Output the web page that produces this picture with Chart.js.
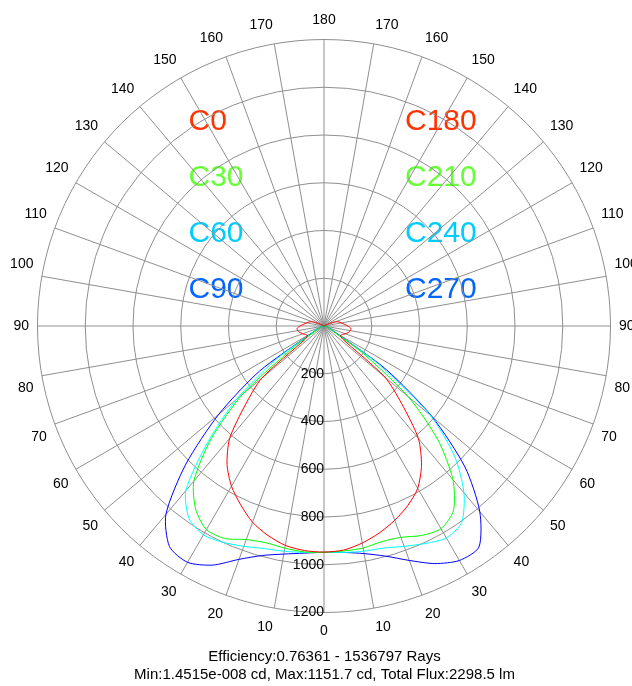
<!DOCTYPE html>
<html>
<head>
<meta charset="utf-8">
<script src="https://cdn.jsdelivr.net/npm/chart.js@4.4.1/dist/chart.umd.min.js"></script>
<style>
html,body{margin:0;padding:0;background:#fff;overflow:hidden;}
#wrap{width:632px;height:686px;position:relative;overflow:hidden;}
#c{position:absolute;left:0;top:0;}
</style>
</head>
<body>
<div id="wrap"><canvas id="c" width="649" height="686"></canvas></div>
<script>
// gamma angles (degrees) at which intensities are given
const gammaAngles = [0,5,10,15,20,25,30,35,40,45,50,55,60,65,70,75,80,85,90,95,100,105,110,115,120,125,130,135,140,145,150,155,160,165,170,175,180];

// luminous intensity (cd) per C-plane
const C0   = [945,944,933,908,875,826,775,708,615,465,340,95,80,85,95,105,112,113,100,85,74,65,52,25,6,3,2,2,2,2,2,2,2,2,2,2,2];
const C180 = [947,942,923,897,866,830,785,712,615,460,332,95,80,85,95,105,112,113,100,85,74,65,52,25,6,3,2,2,2,2,2,2,2,2,2,2,2];
const C30  = [948,950,945,940,952,982,985,937,848,668,445,150,40,25,18,14,12,10,8,5,3,3,2,2,2,2,2,2,2,2,2,2,2,2,2,2,2];
const C210 = [948,946,944,935,942,968,980,945,840,675,460,200,40,25,18,14,12,10,8,5,3,3,2,2,2,2,2,2,2,2,2,2,2,2,2,2,2];
const C60  = [948,952,958,965,982,1000,1010,985,900,688,480,250,50,30,20,15,12,10,8,5,3,3,2,2,2,2,2,2,2,2,2,2,2,2,2,2,2];
const C240 = [948,952,958,963,982,1005,1025,1005,912,775,580,280,50,30,20,15,12,10,8,5,3,3,2,2,2,2,2,2,2,2,2,2,2,2,2,2,2];
const C90  = [948,955,970,995,1040,1105,1143,1128,1030,818,575,330,60,30,20,15,12,10,8,5,3,3,2,2,2,2,2,2,2,2,2,2,2,2,2,2,2];
const C270 = [948,952,968,998,1045,1098,1134,1131,1015,835,590,318,60,30,20,15,12,10,8,5,3,3,2,2,2,2,2,2,2,2,2,2,2,2,2,2,2];

// plane pairs: [left half, right half]
const planeNames  = [['C0','C180'],['C30','C210'],['C60','C240'],['C90','C270']];
const planeData   = [[C0,C180],[C30,C210],[C60,C240],[C90,C270]];
const lineColors  = ['#ff0000','#00ff00','#00ffff','#0000ff'];
const textColors  = ['#ff3300','#66ff33','#00ccff','#0066ff'];

const radialMin = 0, radialMax = 1200, radialStep = 200;
const infoLines = ['Efficiency:0.76361 - 1536797 Rays',
                   'Min:1.4515e-008 cd, Max:1151.7 cd, Total Flux:2298.5 lm'];

// build radar spokes: index 0 at top (gamma 180), clockwise; right side first then left side
const n = gammaAngles.length - 1;          // 36
const spokeGamma = [];
for (let i = 0; i < 2 * n; i++) spokeGamma.push(i <= n ? gammaAngles[n - i] : gammaAngles[i - n]);
const labels = spokeGamma.map(g => (g % 10 === 0 ? String(g) : ''));

const datasets = planeData.map((pair, k) => ({
  label: planeNames[k].join('/'),
  data: spokeGamma.map((g, i) => (i <= n ? pair[1][n - i] : pair[0][i - n])),
  borderColor: lineColors[k],
  borderWidth: 1,
  fill: false,
  pointRadius: 0,
  tension: 0.25
}));

const SANS = '"Liberation Sans", Arial, sans-serif';

const overlay = {
  id: 'overlay',
  beforeDraw(chart) {
    const ctx = chart.ctx;
    ctx.save();
    ctx.fillStyle = '#fff';
    ctx.fillRect(0, 0, chart.width, chart.height);
    ctx.font = '30px ' + SANS;
    ctx.textAlign = 'left';
    ctx.textBaseline = 'alphabetic';
    planeNames.forEach((p, k) => {
      ctx.fillStyle = textColors[k];
      ctx.fillText(p[0], 188.5, 130 + 56.1 * k);
      ctx.fillText(p[1], 405, 130 + 56.1 * k);
    });
    ctx.restore();
  },
  beforeDatasetsDraw(chart) {
    const ctx = chart.ctx, r = chart.scales.r;
    ctx.save();
    ctx.font = '14px ' + SANS;
    ctx.fillStyle = '#000';
    ctx.textAlign = 'right';
    ctx.textBaseline = 'middle';
    r.ticks.forEach(t => {
      if (t.value === 0) return;
      ctx.fillText(String(t.value), r.xCenter, r.yCenter + r.getDistanceFromCenterForValue(t.value));
    });
    ctx.restore();
  }
};

new Chart(document.getElementById('c'), {
  type: 'radar',
  data: { labels: labels, datasets: datasets },
  plugins: [overlay],
  options: {
    responsive: false,
    animation: false,
    devicePixelRatio: 1,
    layout: { padding: { left: 0, right: 0, top: 10, bottom: 0 } },
    plugins: {
      legend: { display: false },
      tooltip: { enabled: false },
      title: {
        display: true,
        position: 'bottom',
        text: infoLines,
        color: '#000',
        font: { family: SANS, size: 15, weight: 'normal', lineHeight: 1.2 },
        padding: { top: 5, bottom: 2 }
      }
    },
    scales: {
      r: {
        min: radialMin,
        max: radialMax,
        startAngle: 0,
        ticks: { display: false, stepSize: radialStep },
        grid: { circular: true, color: '#8f8f8f', lineWidth: 1 },
        angleLines: { color: '#8f8f8f', lineWidth: ctx => (ctx.index % 2 === 0 ? 1 : 0) },
        pointLabels: {
          display: true,
          color: '#000',
          padding: 8.5,
          font: { family: SANS, size: 14, lineHeight: 1.5 }
        }
      }
    }
  }
});
</script>
</body>
</html>
